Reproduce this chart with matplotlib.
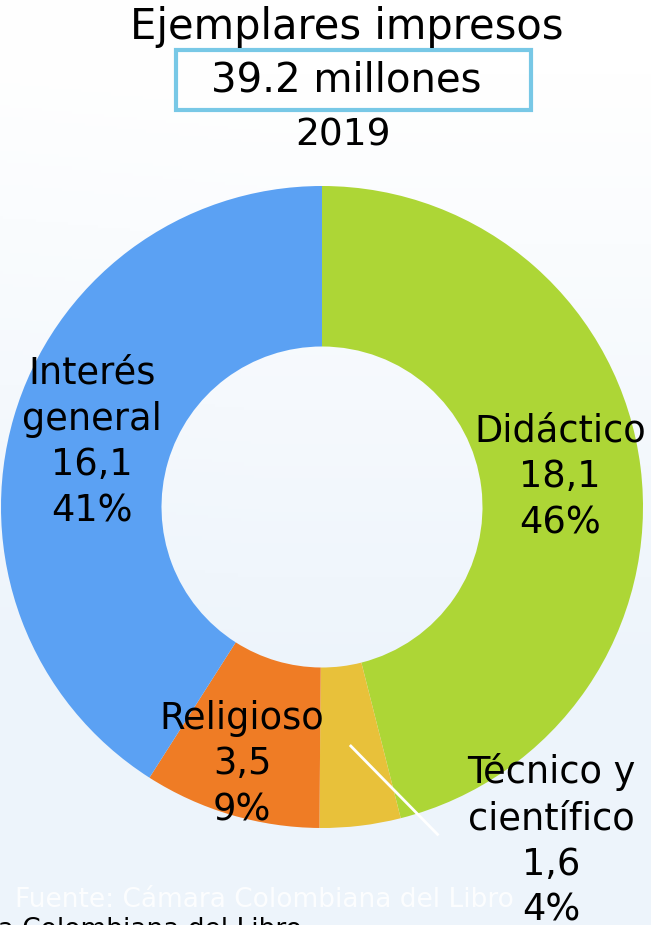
import numpy as np
import matplotlib
matplotlib.use("Agg")
import matplotlib.pyplot as plt
from matplotlib.patches import Rectangle

# data
categories = ["Didáctico", "Técnico y\ncientífico", "Religioso", "Interés\ngeneral"]
values = [18.1, 1.6, 3.5, 16.1]
colors = ["#add636", "#e8c13a", "#ef7c25", "#5ba1f3"]
title = "Ejemplares impresos"
total_label = "39.2 millones"
year = "2019"
source = "Fuente: Cámara Colombiana del Libro"

W, H = 651, 925
plt.rcParams["font.family"] = ["DejaVu Sans"]


def fx(x):
    return x / W


def fy(y):
    return 1 - y / H


fig = plt.figure(figsize=(W / 100, H / 100), dpi=100)

# soft bluish background
bg = fig.add_axes([0, 0, 1, 1], zorder=-1)
yy, xx = np.mgrid[0:1:300j, 0:1:200j]
shade = np.clip((yy - 0.08) * 1.6, 0, 1) * 0.9 + np.clip(0.4 - xx, 0, 1) * 0.1
top = np.array([1.0, 1.0, 1.0])
low = np.array([0.925, 0.955, 0.985])
img = top[None, None, :] * (1 - shade[..., None]) + low[None, None, :] * shade[..., None]
bg.imshow(img, aspect="auto", extent=[0, 1, 0, 1])
bg.axis("off")

# donut
cx, cy, r = 322, 507, 321
ax = fig.add_axes([fx(cx - r), fy(cy + r), 2 * r / W, 2 * r / H])
wedges, _ = ax.pie(values, colors=colors, startangle=90, counterclock=False,
                   radius=1, wedgeprops=dict(width=0.5, edgecolor="none"))
ax.set_xlim(-1, 1)
ax.set_ylim(-1, 1)
ax.axis("off")

# leader line for the small slice
w = wedges[1]
mid = np.deg2rad((w.theta1 + w.theta2) / 2)
ax.plot([0.75 * np.cos(mid), 0.36], [0.75 * np.sin(mid), -1.02],
        color="white", lw=2, clip_on=False)

# labels
total = sum(values)
label_pos = [(560, 477), (551, 841), (242, 764), (92, 442)]
for name, v, (x, y) in zip(categories, values, label_pos):
    txt = f"{name}\n{str(v).replace('.', ',')}\n{round(v / total * 100):.0f}%"
    fig.text(fx(x), fy(y), txt, ha="center", va="center", fontsize=26.5,
             linespacing=1.3, color="black")

# header
fig.text(fx(347), fy(27), title, ha="center", va="center", fontsize=30)
fig.text(fx(346), fy(80), total_label, ha="center", va="center", fontsize=29)
fig.patches.append(Rectangle((fx(176), fy(110)), fx(531) - fx(176), fy(50) - fy(110),
                             transform=fig.transFigure, fill=False,
                             edgecolor="#78c8e6", lw=3))
fig.text(fx(343), fy(135), year, ha="center", va="center", fontsize=27)

# source (faint white copy and clipped dark copy)
fig.text(fx(15), fy(900), source, ha="left", va="center", fontsize=19,
         color="white", alpha=0.85)
fig.text(fx(302), fy(937), source, ha="right", va="baseline", fontsize=19,
         color="black")

fig.savefig("out.png", dpi=100)
